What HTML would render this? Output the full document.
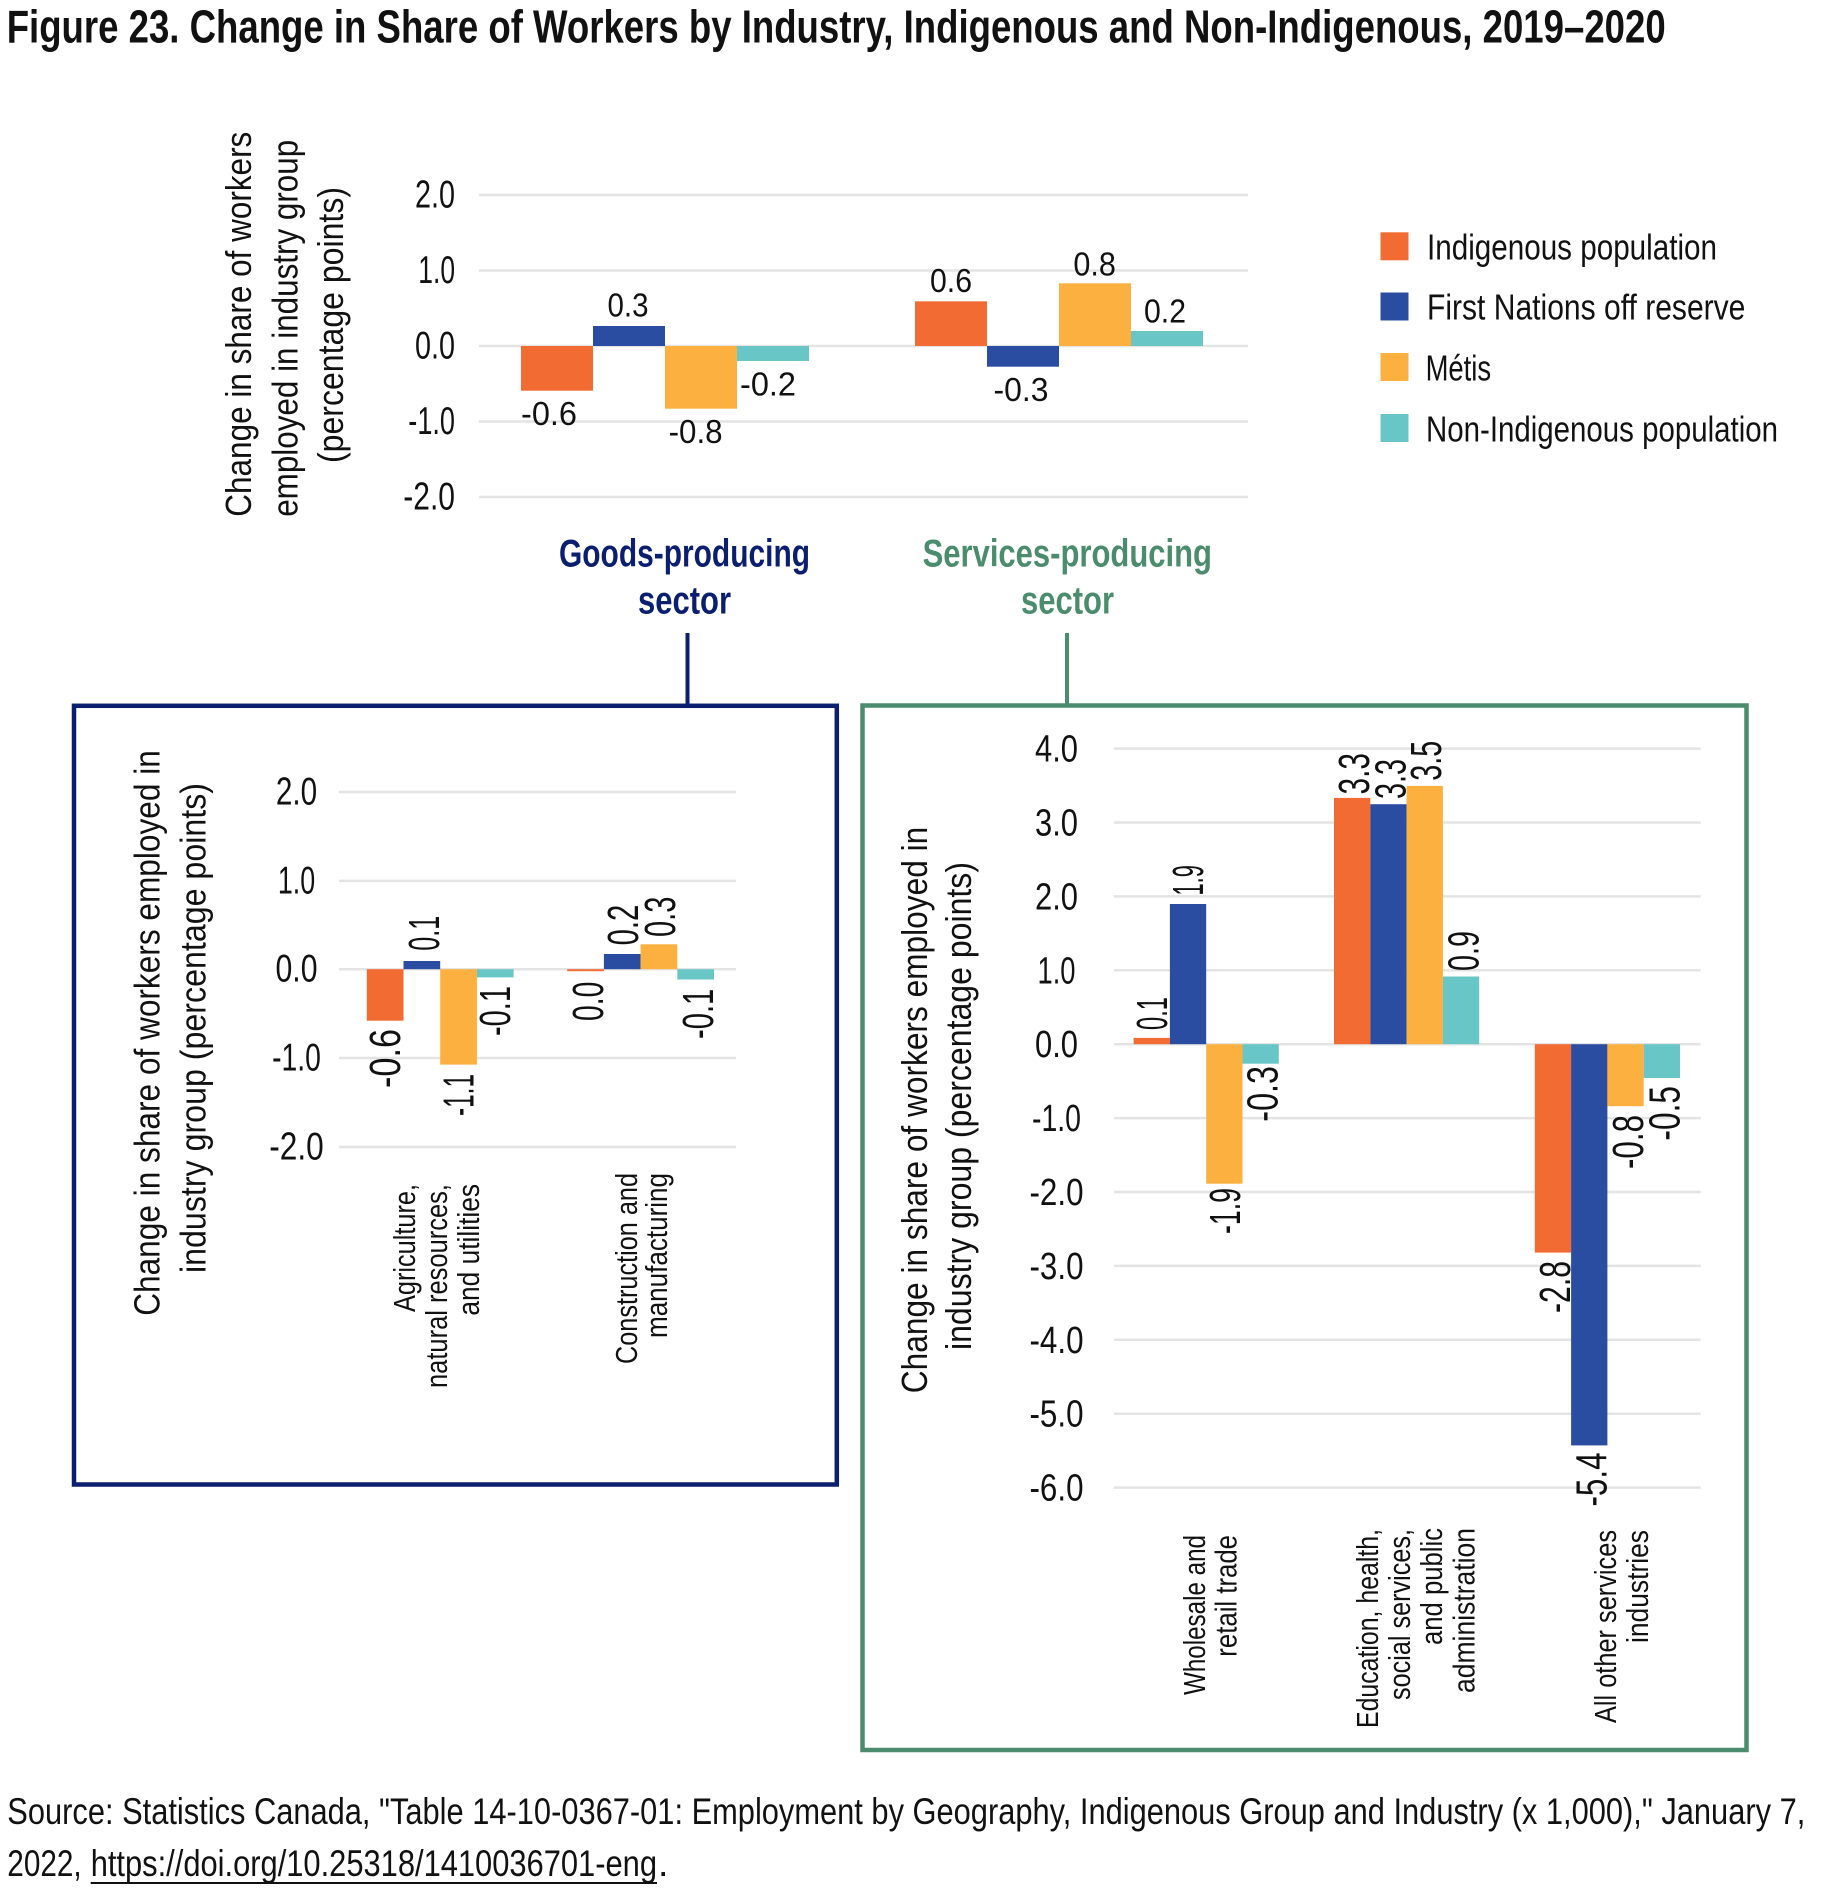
<!DOCTYPE html>
<html><head><meta charset="utf-8"><style>
html,body{margin:0;padding:0;background:#fff}
svg{display:block}
text{font-family:"Liberation Sans",sans-serif;fill:#111}
</style></head><body>
<svg width="1833" height="1893" viewBox="0 0 1833 1893" xmlns="http://www.w3.org/2000/svg">
<rect x="0" y="0" width="1833" height="1893" fill="#fff"/>

<!-- Title -->
<text x="6.7" y="42.7" font-size="46" font-weight="bold" textLength="1659" lengthAdjust="spacingAndGlyphs">Figure 23. Change in Share of Workers by Industry, Indigenous and Non-Indigenous, 2019–2020</text>

<!-- ===== TOP CHART ===== -->
<g stroke="#e4e4e4" stroke-width="2.5">
<line x1="479" y1="195" x2="1248" y2="195"/>
<line x1="479" y1="270.5" x2="1248" y2="270.5"/>
<line x1="479" y1="346" x2="1248" y2="346"/>
<line x1="479" y1="421.5" x2="1248" y2="421.5"/>
<line x1="479" y1="497" x2="1248" y2="497"/>
</g>
<g font-size="39" text-anchor="end">
<text x="455" y="207.5" textLength="40" lengthAdjust="spacingAndGlyphs">2.0</text>
<text x="455" y="283" textLength="36.7" lengthAdjust="spacingAndGlyphs">1.0</text>
<text x="455" y="358.5" textLength="40" lengthAdjust="spacingAndGlyphs">0.0</text>
<text x="455" y="434" textLength="46.7" lengthAdjust="spacingAndGlyphs">-1.0</text>
<text x="455" y="509.5" textLength="51.7" lengthAdjust="spacingAndGlyphs">-2.0</text>
</g>
<g font-size="36" text-anchor="middle">
<text transform="translate(251,324.2) rotate(-90)" textLength="385" lengthAdjust="spacingAndGlyphs">Change in share of workers</text>
<text transform="translate(297.5,328.3) rotate(-90)" textLength="377" lengthAdjust="spacingAndGlyphs">employed in industry group</text>
<text transform="translate(343,325) rotate(-90)" textLength="276" lengthAdjust="spacingAndGlyphs">(percentage points)</text>
</g>
<!-- bars -->
<rect x="521" y="346" width="72" height="44.7" fill="#F26B33"/>
<rect x="593" y="326" width="72" height="20" fill="#2B4DA1"/>
<rect x="665" y="346" width="72" height="62.7" fill="#FBB040"/>
<rect x="737" y="346" width="72" height="15" fill="#68C7C6"/>
<rect x="915" y="301.3" width="72" height="44.7" fill="#F26B33"/>
<rect x="987" y="346" width="72" height="20.7" fill="#2B4DA1"/>
<rect x="1059" y="283.3" width="72" height="62.7" fill="#FBB040"/>
<rect x="1131" y="331" width="72" height="15" fill="#68C7C6"/>
<g font-size="33" text-anchor="middle">
<text x="549" y="425" textLength="56" lengthAdjust="spacingAndGlyphs">-0.6</text>
<text x="628" y="316.7" textLength="41" lengthAdjust="spacingAndGlyphs">0.3</text>
<text x="695.6" y="443" textLength="54" lengthAdjust="spacingAndGlyphs">-0.8</text>
<text x="768" y="395.7" textLength="56" lengthAdjust="spacingAndGlyphs">-0.2</text>
<text x="951" y="292" textLength="42" lengthAdjust="spacingAndGlyphs">0.6</text>
<text x="1021" y="401" textLength="55" lengthAdjust="spacingAndGlyphs">-0.3</text>
<text x="1094.6" y="275.7" textLength="42.5" lengthAdjust="spacingAndGlyphs">0.8</text>
<text x="1165" y="322.7" textLength="42" lengthAdjust="spacingAndGlyphs">0.2</text>
</g>

<!-- Legend -->
<rect x="1380.5" y="232.3" width="28" height="28" fill="#F26B33"/>
<rect x="1380.5" y="292.5" width="28" height="28" fill="#2B4DA1"/>
<rect x="1380.5" y="353" width="28" height="28" fill="#FBB040"/>
<rect x="1380.5" y="414" width="28" height="28" fill="#68C7C6"/>
<g font-size="36">
<text x="1427" y="259.5" textLength="290" lengthAdjust="spacingAndGlyphs">Indigenous population</text>
<text x="1427" y="319.5" textLength="318.4" lengthAdjust="spacingAndGlyphs">First Nations off reserve</text>
<text x="1425.6" y="380.5" textLength="65.5" lengthAdjust="spacingAndGlyphs">Métis</text>
<text x="1426" y="441.5" textLength="352" lengthAdjust="spacingAndGlyphs">Non-Indigenous population</text>
</g>

<!-- Section labels -->
<g font-size="39" font-weight="bold" text-anchor="middle">
<text x="684.5" y="566.7" fill="#0B1E6F" style="fill:#0B1E6F" textLength="251" lengthAdjust="spacingAndGlyphs">Goods-producing</text>
<text x="684.5" y="613.3" style="fill:#0B1E6F" textLength="93" lengthAdjust="spacingAndGlyphs">sector</text>
<text x="1067.3" y="566.7" style="fill:#4C8C6E" textLength="289.4" lengthAdjust="spacingAndGlyphs">Services-producing</text>
<text x="1067.5" y="613.3" style="fill:#4C8C6E" textLength="93" lengthAdjust="spacingAndGlyphs">sector</text>
</g>
<line x1="687.5" y1="633" x2="687.5" y2="706" stroke="#0B1E6F" stroke-width="4"/>
<line x1="1067" y1="633" x2="1067" y2="706" stroke="#4C8C6E" stroke-width="4"/>

<!-- ===== LEFT BOX ===== -->
<rect x="74" y="705.8" width="762.8" height="778.7" fill="none" stroke="#0B1E6F" stroke-width="4.5"/>
<g stroke="#e4e4e4" stroke-width="2.5">
<line x1="339" y1="792" x2="736" y2="792"/>
<line x1="339" y1="880.9" x2="736" y2="880.9"/>
<line x1="339" y1="969.2" x2="736" y2="969.2"/>
<line x1="339" y1="1058" x2="736" y2="1058"/>
<line x1="339" y1="1147" x2="736" y2="1147"/>
</g>
<g font-size="39" text-anchor="middle">
<text x="296.5" y="804.5" textLength="41.3" lengthAdjust="spacingAndGlyphs">2.0</text>
<text x="296.5" y="893.4" textLength="37.3" lengthAdjust="spacingAndGlyphs">1.0</text>
<text x="296.5" y="981.7" textLength="42" lengthAdjust="spacingAndGlyphs">0.0</text>
<text x="296.5" y="1070.5" textLength="48.8" lengthAdjust="spacingAndGlyphs">-1.0</text>
<text x="296.5" y="1159.5" textLength="54.5" lengthAdjust="spacingAndGlyphs">-2.0</text>
</g>
<g font-size="36" text-anchor="middle">
<text transform="translate(159.5,1033) rotate(-90)" textLength="565.6" lengthAdjust="spacingAndGlyphs">Change in share of workers employed in</text>
<text transform="translate(205.5,1028) rotate(-90)" textLength="490" lengthAdjust="spacingAndGlyphs">industry group (percentage points)</text>
</g>
<rect x="366.8" y="969.2" width="36.7" height="51.5" fill="#F26B33"/>
<rect x="403.5" y="961" width="36.7" height="8.2" fill="#2B4DA1"/>
<rect x="440.2" y="969.2" width="36.7" height="95.4" fill="#FBB040"/>
<rect x="476.9" y="969.2" width="36.7" height="8.2" fill="#68C7C6"/>
<rect x="567.2" y="969.2" width="36.7" height="2" fill="#F26B33"/>
<rect x="603.9" y="954" width="36.7" height="15.2" fill="#2B4DA1"/>
<rect x="640.6" y="944.3" width="36.7" height="24.9" fill="#FBB040"/>
<rect x="677.3" y="969.2" width="36.7" height="10.3" fill="#68C7C6"/>
<g font-size="44">
<text transform="translate(439,950.8) rotate(-90)" textLength="35" lengthAdjust="spacingAndGlyphs">0.1</text>
<text transform="translate(400,1088) rotate(-90)" textLength="59" lengthAdjust="spacingAndGlyphs">-0.6</text>
<text transform="translate(473.6,1116) rotate(-90)" textLength="42" lengthAdjust="spacingAndGlyphs">-1.1</text>
<text transform="translate(509.8,1036) rotate(-90)" textLength="50" lengthAdjust="spacingAndGlyphs">-0.1</text>
<text transform="translate(603,1021) rotate(-90)" textLength="39.3" lengthAdjust="spacingAndGlyphs">0.0</text>
<text transform="translate(638,945.4) rotate(-90)" textLength="40.7" lengthAdjust="spacingAndGlyphs">0.2</text>
<text transform="translate(675,937) rotate(-90)" textLength="40.4" lengthAdjust="spacingAndGlyphs">0.3</text>
<text transform="translate(713,1039) rotate(-90)" textLength="50.3" lengthAdjust="spacingAndGlyphs">-0.1</text>
</g>
<g font-size="31" text-anchor="end">
<text transform="translate(415,1184) rotate(-90)" textLength="128" lengthAdjust="spacingAndGlyphs">Agriculture,</text>
<text transform="translate(447,1184) rotate(-90)" textLength="204" lengthAdjust="spacingAndGlyphs">natural resources,</text>
<text transform="translate(479,1184) rotate(-90)" textLength="131.6" lengthAdjust="spacingAndGlyphs">and utilities</text>
<text transform="translate(637,1173) rotate(-90)" textLength="191" lengthAdjust="spacingAndGlyphs">Construction and</text>
<text transform="translate(667,1173) rotate(-90)" textLength="165" lengthAdjust="spacingAndGlyphs">manufacturing</text>
</g>

<!-- ===== RIGHT BOX ===== -->
<rect x="862.5" y="705.5" width="884" height="1044.5" fill="none" stroke="#4C8C6E" stroke-width="4.5"/>
<g stroke="#e4e4e4" stroke-width="2.5">
<line x1="1114" y1="748.6" x2="1700.7" y2="748.6"/>
<line x1="1114" y1="822.5" x2="1700.7" y2="822.5"/>
<line x1="1114" y1="896.4" x2="1700.7" y2="896.4"/>
<line x1="1114" y1="970.3" x2="1700.7" y2="970.3"/>
<line x1="1114" y1="1044.2" x2="1700.7" y2="1044.2"/>
<line x1="1114" y1="1118.1" x2="1700.7" y2="1118.1"/>
<line x1="1114" y1="1192" x2="1700.7" y2="1192"/>
<line x1="1114" y1="1265.9" x2="1700.7" y2="1265.9"/>
<line x1="1114" y1="1339.8" x2="1700.7" y2="1339.8"/>
<line x1="1114" y1="1413.7" x2="1700.7" y2="1413.7"/>
<line x1="1114" y1="1487.6" x2="1700.7" y2="1487.6"/>
</g>
<g font-size="38" text-anchor="middle">
<text x="1056.5" y="761.6" textLength="43" lengthAdjust="spacingAndGlyphs">4.0</text>
<text x="1056.5" y="835.5" textLength="43" lengthAdjust="spacingAndGlyphs">3.0</text>
<text x="1056.5" y="909.4" textLength="43" lengthAdjust="spacingAndGlyphs">2.0</text>
<text x="1056.5" y="983.3" textLength="38" lengthAdjust="spacingAndGlyphs">1.0</text>
<text x="1056.5" y="1057.2" textLength="43" lengthAdjust="spacingAndGlyphs">0.0</text>
<text x="1056.5" y="1131.1" textLength="49" lengthAdjust="spacingAndGlyphs">-1.0</text>
<text x="1056.5" y="1205" textLength="54" lengthAdjust="spacingAndGlyphs">-2.0</text>
<text x="1056.5" y="1278.9" textLength="54" lengthAdjust="spacingAndGlyphs">-3.0</text>
<text x="1056.5" y="1352.8" textLength="54" lengthAdjust="spacingAndGlyphs">-4.0</text>
<text x="1056.5" y="1426.7" textLength="54" lengthAdjust="spacingAndGlyphs">-5.0</text>
<text x="1056.5" y="1500.6" textLength="54" lengthAdjust="spacingAndGlyphs">-6.0</text>
</g>
<g font-size="36" text-anchor="middle">
<text transform="translate(927,1110) rotate(-90)" textLength="566.4" lengthAdjust="spacingAndGlyphs">Change in share of workers employed in</text>
<text transform="translate(971,1106) rotate(-90)" textLength="488" lengthAdjust="spacingAndGlyphs">industry group (percentage points)</text>
</g>
<rect x="1133.6" y="1037.9" width="36.3" height="6.3" fill="#F26B33"/>
<rect x="1169.9" y="904" width="36.3" height="140.2" fill="#2B4DA1"/>
<rect x="1206.2" y="1044.2" width="36.3" height="139.5" fill="#FBB040"/>
<rect x="1242.5" y="1044.2" width="36.3" height="19.5" fill="#68C7C6"/>
<rect x="1334" y="797.9" width="36.3" height="246.3" fill="#F26B33"/>
<rect x="1370.3" y="804.2" width="36.3" height="240" fill="#2B4DA1"/>
<rect x="1406.6" y="785.9" width="36.3" height="258.3" fill="#FBB040"/>
<rect x="1442.9" y="976.5" width="36.3" height="67.7" fill="#68C7C6"/>
<rect x="1534.8" y="1044.2" width="36.3" height="208.4" fill="#F26B33"/>
<rect x="1571.1" y="1044.2" width="36.3" height="401.2" fill="#2B4DA1"/>
<rect x="1607.4" y="1044.2" width="36.3" height="62" fill="#FBB040"/>
<rect x="1643.7" y="1044.2" width="36.3" height="33.8" fill="#68C7C6"/>
<g font-size="44">
<text transform="translate(1167,1030) rotate(-90)" textLength="33" lengthAdjust="spacingAndGlyphs">0.1</text>
<text transform="translate(1203,895.5) rotate(-90)" textLength="30.4" lengthAdjust="spacingAndGlyphs">1.9</text>
<text transform="translate(1240,1234) rotate(-90)" textLength="46" lengthAdjust="spacingAndGlyphs">-1.9</text>
<text transform="translate(1277.7,1121.7) rotate(-90)" textLength="55.7" lengthAdjust="spacingAndGlyphs">-0.3</text>
<text transform="translate(1369,794.5) rotate(-90)" textLength="41.5" lengthAdjust="spacingAndGlyphs">3.3</text>
<text transform="translate(1405.5,799) rotate(-90)" textLength="40" lengthAdjust="spacingAndGlyphs">3.3</text>
<text transform="translate(1441,780.7) rotate(-90)" textLength="40" lengthAdjust="spacingAndGlyphs">3.5</text>
<text transform="translate(1478.5,971) rotate(-90)" textLength="40" lengthAdjust="spacingAndGlyphs">0.9</text>
<text transform="translate(1570,1313) rotate(-90)" textLength="52" lengthAdjust="spacingAndGlyphs">-2.8</text>
<text transform="translate(1606.5,1506.5) rotate(-90)" textLength="54" lengthAdjust="spacingAndGlyphs">-5.4</text>
<text transform="translate(1643,1169) rotate(-90)" textLength="54" lengthAdjust="spacingAndGlyphs">-0.8</text>
<text transform="translate(1679.5,1140.6) rotate(-90)" textLength="54.6" lengthAdjust="spacingAndGlyphs">-0.5</text>
</g>
<g font-size="31" text-anchor="end">
<text transform="translate(1205,1535) rotate(-90)" textLength="160" lengthAdjust="spacingAndGlyphs">Wholesale and</text>
<text transform="translate(1236.5,1535) rotate(-90)" textLength="121.7" lengthAdjust="spacingAndGlyphs">retail trade</text>
<text transform="translate(1378,1529) rotate(-90)" textLength="199" lengthAdjust="spacingAndGlyphs">Education, health,</text>
<text transform="translate(1410,1529) rotate(-90)" textLength="171" lengthAdjust="spacingAndGlyphs">social services,</text>
<text transform="translate(1442,1528) rotate(-90)" textLength="117" lengthAdjust="spacingAndGlyphs">and public</text>
<text transform="translate(1474.5,1528) rotate(-90)" textLength="165" lengthAdjust="spacingAndGlyphs">administration</text>
<text transform="translate(1616,1530) rotate(-90)" textLength="193" lengthAdjust="spacingAndGlyphs">All other services</text>
<text transform="translate(1648,1530) rotate(-90)" textLength="113" lengthAdjust="spacingAndGlyphs">industries</text>
</g>

<!-- Source -->
<g font-size="37.5">
<text x="7.3" y="1824" textLength="1798" lengthAdjust="spacingAndGlyphs">Source: Statistics Canada, "Table 14-10-0367-01: Employment by Geography, Indigenous Group and Industry (x 1,000)," January 7,</text>
<text x="7.3" y="1876" textLength="74.4" lengthAdjust="spacingAndGlyphs">2022,</text>
<text x="90.7" y="1876" textLength="566.3" lengthAdjust="spacingAndGlyphs">https://doi.org/10.25318/1410036701-eng</text>
<text x="658" y="1876">.</text>
</g>
<line x1="90.7" y1="1883" x2="657" y2="1883" stroke="#111" stroke-width="2"/>
</svg>
</body></html>
